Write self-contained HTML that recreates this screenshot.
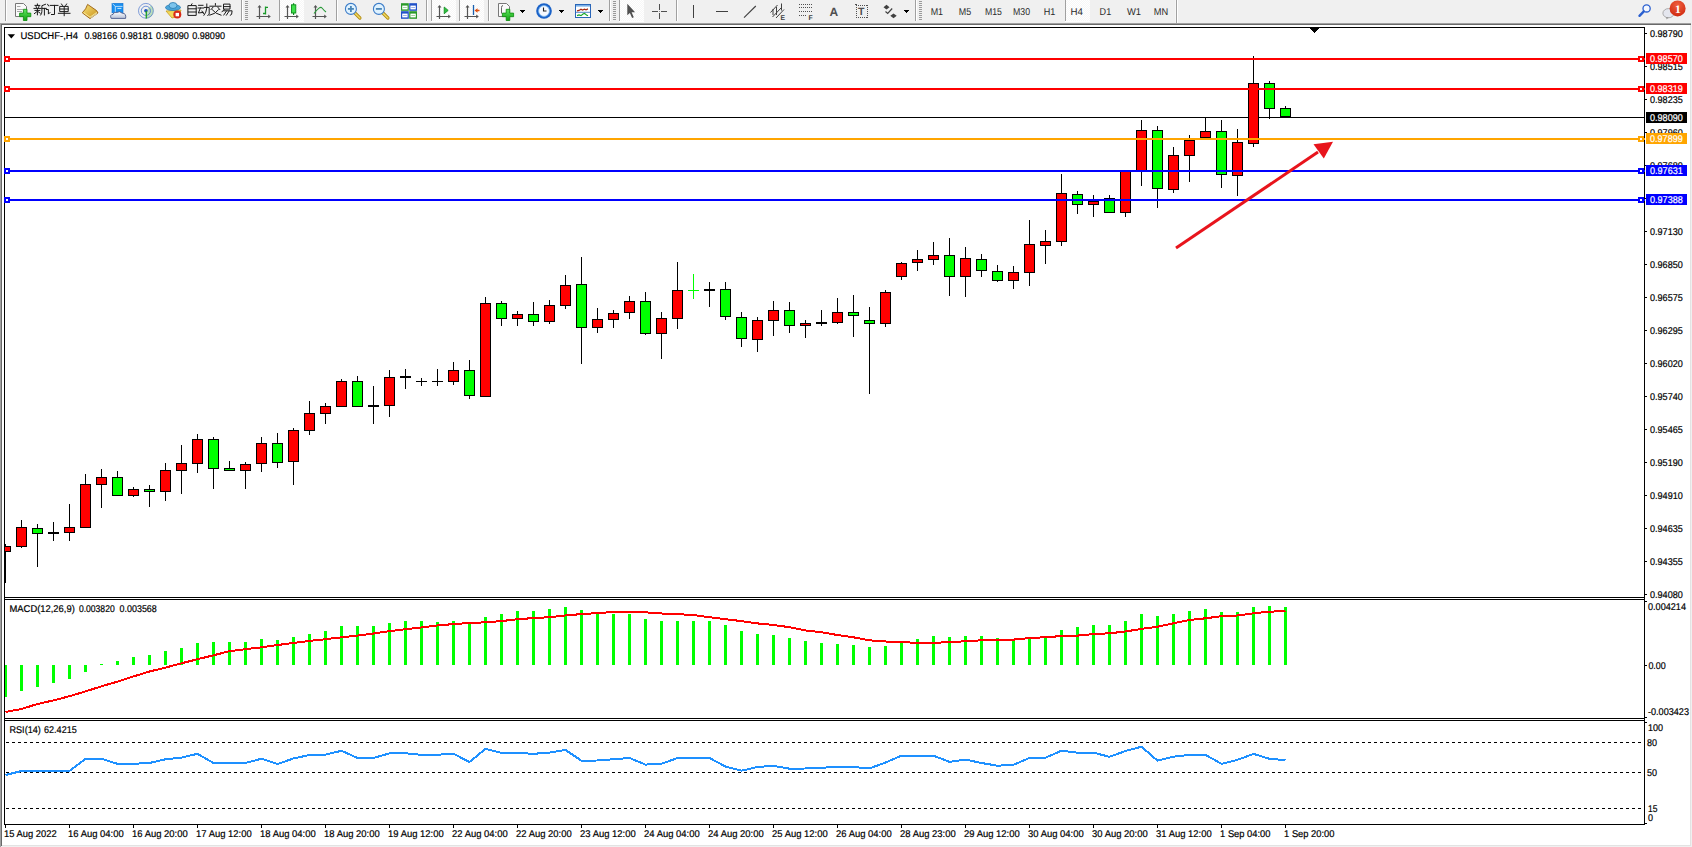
<!DOCTYPE html>
<html><head><meta charset="utf-8"><title>MT4 USDCHF H4</title>
<style>
html,body{margin:0;padding:0;background:#f0f0f0;}
body{width:1692px;height:847px;overflow:hidden;position:relative;}
svg{position:absolute;left:0;top:0;display:block;}
text{font-family:'Liberation Sans',sans-serif;text-rendering:geometricPrecision;}
</style></head>
<body>
<svg width="1692" height="847" viewBox="0 0 1692 847" shape-rendering="crispEdges">
<rect x="0" y="0" width="1692" height="847" fill="#f0f0f0"/>
<rect x="0" y="23" width="1691" height="1" fill="#a0a0a0"/>
<rect x="0" y="23" width="1" height="824" fill="#a0a0a0"/>
<rect x="1" y="24" width="1690" height="1" fill="#696969"/>
<rect x="1" y="24" width="1" height="822" fill="#696969"/>
<rect x="2" y="25" width="1688" height="820" fill="#ffffff"/>
<rect x="1690" y="25" width="1" height="821" fill="#e3e3e3"/>
<rect x="2" y="845" width="1689" height="1" fill="#e3e3e3"/>
<rect x="4" y="27" width="1641" height="1" fill="#000"/>
<rect x="4" y="597" width="1641" height="1" fill="#000"/>
<rect x="4" y="599" width="1641" height="1" fill="#000"/>
<rect x="4" y="718" width="1641" height="1" fill="#000"/>
<rect x="4" y="720" width="1641" height="1" fill="#000"/>
<rect x="4" y="824" width="1641" height="1" fill="#000"/>
<rect x="4" y="27" width="1" height="798" fill="#000"/>
<rect x="1644" y="27" width="1" height="798" fill="#000"/>
<defs><clipPath id="mc"><rect x="5" y="28" width="1639" height="569"/></clipPath></defs>
<g clip-path="url(#mc)">
<rect x="5" y="117" width="1639" height="1" fill="#000"/>
<rect x="5" y="544" width="1" height="39" fill="#000"/>
<rect x="0" y="546" width="11" height="6" fill="#000"/>
<rect x="1" y="547" width="9" height="4" fill="#ff0000"/>
<rect x="21" y="520" width="1" height="28" fill="#000"/>
<rect x="16" y="527" width="11" height="20" fill="#000"/>
<rect x="17" y="528" width="9" height="18" fill="#ff0000"/>
<rect x="37" y="524" width="1" height="43" fill="#000"/>
<rect x="32" y="528" width="11" height="6" fill="#000"/>
<rect x="33" y="529" width="9" height="4" fill="#00ff00"/>
<rect x="53" y="522" width="1" height="19" fill="#000"/>
<rect x="48" y="532" width="11" height="2" fill="#000"/>
<rect x="69" y="504" width="1" height="37" fill="#000"/>
<rect x="64" y="527" width="11" height="6" fill="#000"/>
<rect x="65" y="528" width="9" height="4" fill="#ff0000"/>
<rect x="85" y="474" width="1" height="54" fill="#000"/>
<rect x="80" y="484" width="11" height="44" fill="#000"/>
<rect x="81" y="485" width="9" height="42" fill="#ff0000"/>
<rect x="101" y="469" width="1" height="39" fill="#000"/>
<rect x="96" y="477" width="11" height="8" fill="#000"/>
<rect x="97" y="478" width="9" height="6" fill="#ff0000"/>
<rect x="117" y="471" width="1" height="25" fill="#000"/>
<rect x="112" y="477" width="11" height="19" fill="#000"/>
<rect x="113" y="478" width="9" height="17" fill="#00ff00"/>
<rect x="133" y="487" width="1" height="10" fill="#000"/>
<rect x="128" y="489" width="11" height="7" fill="#000"/>
<rect x="129" y="490" width="9" height="5" fill="#ff0000"/>
<rect x="149" y="485" width="1" height="22" fill="#000"/>
<rect x="144" y="489" width="11" height="3" fill="#000"/>
<rect x="145" y="490" width="9" height="1" fill="#00ff00"/>
<rect x="165" y="463" width="1" height="38" fill="#000"/>
<rect x="160" y="470" width="11" height="22" fill="#000"/>
<rect x="161" y="471" width="9" height="20" fill="#ff0000"/>
<rect x="181" y="445" width="1" height="49" fill="#000"/>
<rect x="176" y="463" width="11" height="8" fill="#000"/>
<rect x="177" y="464" width="9" height="6" fill="#ff0000"/>
<rect x="197" y="434" width="1" height="39" fill="#000"/>
<rect x="192" y="439" width="11" height="25" fill="#000"/>
<rect x="193" y="440" width="9" height="23" fill="#ff0000"/>
<rect x="213" y="437" width="1" height="52" fill="#000"/>
<rect x="208" y="439" width="11" height="30" fill="#000"/>
<rect x="209" y="440" width="9" height="28" fill="#00ff00"/>
<rect x="229" y="461" width="1" height="10" fill="#000"/>
<rect x="224" y="468" width="11" height="3" fill="#000"/>
<rect x="225" y="469" width="9" height="1" fill="#00ff00"/>
<rect x="245" y="462" width="1" height="27" fill="#000"/>
<rect x="240" y="464" width="11" height="7" fill="#000"/>
<rect x="241" y="465" width="9" height="5" fill="#ff0000"/>
<rect x="261" y="437" width="1" height="35" fill="#000"/>
<rect x="256" y="443" width="11" height="21" fill="#000"/>
<rect x="257" y="444" width="9" height="19" fill="#ff0000"/>
<rect x="277" y="433" width="1" height="35" fill="#000"/>
<rect x="272" y="443" width="11" height="20" fill="#000"/>
<rect x="273" y="444" width="9" height="18" fill="#00ff00"/>
<rect x="293" y="428" width="1" height="57" fill="#000"/>
<rect x="288" y="430" width="11" height="32" fill="#000"/>
<rect x="289" y="431" width="9" height="30" fill="#ff0000"/>
<rect x="309" y="401" width="1" height="34" fill="#000"/>
<rect x="304" y="413" width="11" height="18" fill="#000"/>
<rect x="305" y="414" width="9" height="16" fill="#ff0000"/>
<rect x="325" y="403" width="1" height="21" fill="#000"/>
<rect x="320" y="406" width="11" height="8" fill="#000"/>
<rect x="321" y="407" width="9" height="6" fill="#ff0000"/>
<rect x="341" y="379" width="1" height="28" fill="#000"/>
<rect x="336" y="381" width="11" height="26" fill="#000"/>
<rect x="337" y="382" width="9" height="24" fill="#ff0000"/>
<rect x="357" y="376" width="1" height="31" fill="#000"/>
<rect x="352" y="381" width="11" height="26" fill="#000"/>
<rect x="353" y="382" width="9" height="24" fill="#00ff00"/>
<rect x="373" y="386" width="1" height="38" fill="#000"/>
<rect x="368" y="405" width="11" height="2" fill="#000"/>
<rect x="389" y="370" width="1" height="47" fill="#000"/>
<rect x="384" y="377" width="11" height="29" fill="#000"/>
<rect x="385" y="378" width="9" height="27" fill="#ff0000"/>
<rect x="405" y="369" width="1" height="20" fill="#000"/>
<rect x="400" y="376" width="11" height="2" fill="#000"/>
<rect x="421" y="378" width="1" height="8" fill="#000"/>
<rect x="416" y="381" width="11" height="1" fill="#000"/>
<rect x="437" y="369" width="1" height="17" fill="#000"/>
<rect x="432" y="381" width="11" height="1" fill="#000"/>
<rect x="453" y="362" width="1" height="23" fill="#000"/>
<rect x="448" y="370" width="11" height="12" fill="#000"/>
<rect x="449" y="371" width="9" height="10" fill="#ff0000"/>
<rect x="469" y="360" width="1" height="39" fill="#000"/>
<rect x="464" y="370" width="11" height="26" fill="#000"/>
<rect x="465" y="371" width="9" height="24" fill="#00ff00"/>
<rect x="485" y="297" width="1" height="100" fill="#000"/>
<rect x="480" y="303" width="11" height="94" fill="#000"/>
<rect x="481" y="304" width="9" height="92" fill="#ff0000"/>
<rect x="501" y="301" width="1" height="25" fill="#000"/>
<rect x="496" y="303" width="11" height="16" fill="#000"/>
<rect x="497" y="304" width="9" height="14" fill="#00ff00"/>
<rect x="517" y="311" width="1" height="15" fill="#000"/>
<rect x="512" y="314" width="11" height="5" fill="#000"/>
<rect x="513" y="315" width="9" height="3" fill="#ff0000"/>
<rect x="533" y="302" width="1" height="24" fill="#000"/>
<rect x="528" y="314" width="11" height="8" fill="#000"/>
<rect x="529" y="315" width="9" height="6" fill="#00ff00"/>
<rect x="549" y="300" width="1" height="24" fill="#000"/>
<rect x="544" y="305" width="11" height="17" fill="#000"/>
<rect x="545" y="306" width="9" height="15" fill="#ff0000"/>
<rect x="565" y="275" width="1" height="34" fill="#000"/>
<rect x="560" y="285" width="11" height="21" fill="#000"/>
<rect x="561" y="286" width="9" height="19" fill="#ff0000"/>
<rect x="581" y="257" width="1" height="107" fill="#000"/>
<rect x="576" y="284" width="11" height="44" fill="#000"/>
<rect x="577" y="285" width="9" height="42" fill="#00ff00"/>
<rect x="597" y="308" width="1" height="25" fill="#000"/>
<rect x="592" y="319" width="11" height="9" fill="#000"/>
<rect x="593" y="320" width="9" height="7" fill="#ff0000"/>
<rect x="613" y="310" width="1" height="18" fill="#000"/>
<rect x="608" y="313" width="11" height="7" fill="#000"/>
<rect x="609" y="314" width="9" height="5" fill="#ff0000"/>
<rect x="629" y="296" width="1" height="23" fill="#000"/>
<rect x="624" y="301" width="11" height="12" fill="#000"/>
<rect x="625" y="302" width="9" height="10" fill="#ff0000"/>
<rect x="645" y="292" width="1" height="43" fill="#000"/>
<rect x="640" y="301" width="11" height="33" fill="#000"/>
<rect x="641" y="302" width="9" height="31" fill="#00ff00"/>
<rect x="661" y="312" width="1" height="47" fill="#000"/>
<rect x="656" y="318" width="11" height="16" fill="#000"/>
<rect x="657" y="319" width="9" height="14" fill="#ff0000"/>
<rect x="677" y="262" width="1" height="67" fill="#000"/>
<rect x="672" y="290" width="11" height="29" fill="#000"/>
<rect x="673" y="291" width="9" height="27" fill="#ff0000"/>
<rect x="693" y="274" width="1" height="25" fill="#00ff00"/>
<rect x="688" y="290" width="11" height="1" fill="#00ff00"/>
<rect x="709" y="282" width="1" height="25" fill="#000"/>
<rect x="704" y="289" width="11" height="2" fill="#000"/>
<rect x="725" y="282" width="1" height="38" fill="#000"/>
<rect x="720" y="289" width="11" height="28" fill="#000"/>
<rect x="721" y="290" width="9" height="26" fill="#00ff00"/>
<rect x="741" y="312" width="1" height="35" fill="#000"/>
<rect x="736" y="317" width="11" height="22" fill="#000"/>
<rect x="737" y="318" width="9" height="20" fill="#00ff00"/>
<rect x="757" y="317" width="1" height="35" fill="#000"/>
<rect x="752" y="320" width="11" height="20" fill="#000"/>
<rect x="753" y="321" width="9" height="18" fill="#ff0000"/>
<rect x="773" y="301" width="1" height="35" fill="#000"/>
<rect x="768" y="310" width="11" height="11" fill="#000"/>
<rect x="769" y="311" width="9" height="9" fill="#ff0000"/>
<rect x="789" y="302" width="1" height="31" fill="#000"/>
<rect x="784" y="310" width="11" height="16" fill="#000"/>
<rect x="785" y="311" width="9" height="14" fill="#00ff00"/>
<rect x="805" y="320" width="1" height="18" fill="#000"/>
<rect x="800" y="323" width="11" height="3" fill="#000"/>
<rect x="801" y="324" width="9" height="1" fill="#ff0000"/>
<rect x="821" y="310" width="1" height="16" fill="#000"/>
<rect x="816" y="322" width="11" height="2" fill="#000"/>
<rect x="837" y="298" width="1" height="26" fill="#000"/>
<rect x="832" y="312" width="11" height="11" fill="#000"/>
<rect x="833" y="313" width="9" height="9" fill="#ff0000"/>
<rect x="853" y="295" width="1" height="42" fill="#000"/>
<rect x="848" y="312" width="11" height="4" fill="#000"/>
<rect x="849" y="313" width="9" height="2" fill="#00ff00"/>
<rect x="869" y="307" width="1" height="87" fill="#000"/>
<rect x="864" y="320" width="11" height="4" fill="#000"/>
<rect x="865" y="321" width="9" height="2" fill="#00ff00"/>
<rect x="885" y="290" width="1" height="37" fill="#000"/>
<rect x="880" y="292" width="11" height="32" fill="#000"/>
<rect x="881" y="293" width="9" height="30" fill="#ff0000"/>
<rect x="901" y="262" width="1" height="18" fill="#000"/>
<rect x="896" y="263" width="11" height="14" fill="#000"/>
<rect x="897" y="264" width="9" height="12" fill="#ff0000"/>
<rect x="917" y="250" width="1" height="21" fill="#000"/>
<rect x="912" y="259" width="11" height="4" fill="#000"/>
<rect x="913" y="260" width="9" height="2" fill="#ff0000"/>
<rect x="933" y="242" width="1" height="23" fill="#000"/>
<rect x="928" y="255" width="11" height="5" fill="#000"/>
<rect x="929" y="256" width="9" height="3" fill="#ff0000"/>
<rect x="949" y="238" width="1" height="58" fill="#000"/>
<rect x="944" y="255" width="11" height="22" fill="#000"/>
<rect x="945" y="256" width="9" height="20" fill="#00ff00"/>
<rect x="965" y="247" width="1" height="50" fill="#000"/>
<rect x="960" y="258" width="11" height="19" fill="#000"/>
<rect x="961" y="259" width="9" height="17" fill="#ff0000"/>
<rect x="981" y="254" width="1" height="23" fill="#000"/>
<rect x="976" y="259" width="11" height="12" fill="#000"/>
<rect x="977" y="260" width="9" height="10" fill="#00ff00"/>
<rect x="997" y="265" width="1" height="17" fill="#000"/>
<rect x="992" y="271" width="11" height="10" fill="#000"/>
<rect x="993" y="272" width="9" height="8" fill="#00ff00"/>
<rect x="1013" y="266" width="1" height="23" fill="#000"/>
<rect x="1008" y="272" width="11" height="9" fill="#000"/>
<rect x="1009" y="273" width="9" height="7" fill="#ff0000"/>
<rect x="1029" y="220" width="1" height="66" fill="#000"/>
<rect x="1024" y="244" width="11" height="29" fill="#000"/>
<rect x="1025" y="245" width="9" height="27" fill="#ff0000"/>
<rect x="1045" y="230" width="1" height="34" fill="#000"/>
<rect x="1040" y="241" width="11" height="5" fill="#000"/>
<rect x="1041" y="242" width="9" height="3" fill="#ff0000"/>
<rect x="1061" y="174" width="1" height="72" fill="#000"/>
<rect x="1056" y="193" width="11" height="49" fill="#000"/>
<rect x="1057" y="194" width="9" height="47" fill="#ff0000"/>
<rect x="1077" y="191" width="1" height="23" fill="#000"/>
<rect x="1072" y="194" width="11" height="11" fill="#000"/>
<rect x="1073" y="195" width="9" height="9" fill="#00ff00"/>
<rect x="1093" y="195" width="1" height="22" fill="#000"/>
<rect x="1088" y="201" width="11" height="4" fill="#000"/>
<rect x="1089" y="202" width="9" height="2" fill="#ff0000"/>
<rect x="1109" y="195" width="1" height="18" fill="#000"/>
<rect x="1104" y="198" width="11" height="15" fill="#000"/>
<rect x="1105" y="199" width="9" height="13" fill="#00ff00"/>
<rect x="1125" y="171" width="1" height="46" fill="#000"/>
<rect x="1120" y="171" width="11" height="42" fill="#000"/>
<rect x="1121" y="172" width="9" height="40" fill="#ff0000"/>
<rect x="1141" y="120" width="1" height="66" fill="#000"/>
<rect x="1136" y="130" width="11" height="41" fill="#000"/>
<rect x="1137" y="131" width="9" height="39" fill="#ff0000"/>
<rect x="1157" y="126" width="1" height="82" fill="#000"/>
<rect x="1152" y="130" width="11" height="59" fill="#000"/>
<rect x="1153" y="131" width="9" height="57" fill="#00ff00"/>
<rect x="1173" y="147" width="1" height="46" fill="#000"/>
<rect x="1168" y="155" width="11" height="35" fill="#000"/>
<rect x="1169" y="156" width="9" height="33" fill="#ff0000"/>
<rect x="1189" y="135" width="1" height="47" fill="#000"/>
<rect x="1184" y="140" width="11" height="16" fill="#000"/>
<rect x="1185" y="141" width="9" height="14" fill="#ff0000"/>
<rect x="1205" y="118" width="1" height="20" fill="#000"/>
<rect x="1200" y="131" width="11" height="7" fill="#000"/>
<rect x="1201" y="132" width="9" height="5" fill="#ff0000"/>
<rect x="1221" y="120" width="1" height="68" fill="#000"/>
<rect x="1216" y="131" width="11" height="44" fill="#000"/>
<rect x="1217" y="132" width="9" height="42" fill="#00ff00"/>
<rect x="1237" y="129" width="1" height="67" fill="#000"/>
<rect x="1232" y="142" width="11" height="34" fill="#000"/>
<rect x="1233" y="143" width="9" height="32" fill="#ff0000"/>
<rect x="1253" y="56" width="1" height="91" fill="#000"/>
<rect x="1248" y="83" width="11" height="61" fill="#000"/>
<rect x="1249" y="84" width="9" height="59" fill="#ff0000"/>
<rect x="1269" y="81" width="1" height="38" fill="#000"/>
<rect x="1264" y="83" width="11" height="26" fill="#000"/>
<rect x="1265" y="84" width="9" height="24" fill="#00ff00"/>
<rect x="1285" y="106" width="1" height="11" fill="#000"/>
<rect x="1280" y="108" width="11" height="9" fill="#000"/>
<rect x="1281" y="109" width="9" height="7" fill="#00ff00"/>
</g>
<rect x="5" y="58" width="1640" height="2" fill="#ff0000"/>
<rect x="4" y="56" width="6" height="6" fill="#ff0000"/>
<rect x="6" y="58" width="2" height="2" fill="#ffffff"/>
<rect x="1638" y="56" width="6" height="6" fill="#ff0000"/>
<rect x="1640" y="58" width="2" height="2" fill="#ffffff"/>
<rect x="5" y="88" width="1640" height="2" fill="#ff0000"/>
<rect x="4" y="86" width="6" height="6" fill="#ff0000"/>
<rect x="6" y="88" width="2" height="2" fill="#ffffff"/>
<rect x="1638" y="86" width="6" height="6" fill="#ff0000"/>
<rect x="1640" y="88" width="2" height="2" fill="#ffffff"/>
<rect x="5" y="138" width="1640" height="2" fill="#ffa500"/>
<rect x="4" y="136" width="6" height="6" fill="#ffa500"/>
<rect x="6" y="138" width="2" height="2" fill="#ffffff"/>
<rect x="1638" y="136" width="6" height="6" fill="#ffa500"/>
<rect x="1640" y="138" width="2" height="2" fill="#ffffff"/>
<rect x="5" y="170" width="1640" height="2" fill="#0000ff"/>
<rect x="4" y="168" width="6" height="6" fill="#0000ff"/>
<rect x="6" y="170" width="2" height="2" fill="#ffffff"/>
<rect x="1638" y="168" width="6" height="6" fill="#0000ff"/>
<rect x="1640" y="170" width="2" height="2" fill="#ffffff"/>
<rect x="5" y="199" width="1640" height="2" fill="#0000ff"/>
<rect x="4" y="197" width="6" height="6" fill="#0000ff"/>
<rect x="6" y="199" width="2" height="2" fill="#ffffff"/>
<rect x="1638" y="197" width="6" height="6" fill="#0000ff"/>
<rect x="1640" y="199" width="2" height="2" fill="#ffffff"/>
<polygon points="1309.5,28 1319.5,28 1314.5,33" fill="#000"/>
<g shape-rendering="geometricPrecision">
<line x1="1176" y1="248" x2="1318" y2="152" stroke="#e8141c" stroke-width="3"/>
<polygon points="1333,141.8 1313.5,144.3 1323.8,158.6" fill="#e8141c"/>
</g>
<rect x="1645" y="33" width="2" height="1" fill="#000"/>
<text x="1650" y="37" font-size="9.8" fill="#000" stroke="#000" stroke-width="0.2" textLength="32.8" lengthAdjust="spacingAndGlyphs">0.98790</text>
<rect x="1645" y="66" width="2" height="1" fill="#000"/>
<text x="1650" y="70" font-size="9.8" fill="#000" stroke="#000" stroke-width="0.2" textLength="32.8" lengthAdjust="spacingAndGlyphs">0.98515</text>
<rect x="1645" y="99" width="2" height="1" fill="#000"/>
<text x="1650" y="103" font-size="9.8" fill="#000" stroke="#000" stroke-width="0.2" textLength="32.8" lengthAdjust="spacingAndGlyphs">0.98235</text>
<rect x="1645" y="132" width="2" height="1" fill="#000"/>
<text x="1650" y="136" font-size="9.8" fill="#000" stroke="#000" stroke-width="0.2" textLength="32.8" lengthAdjust="spacingAndGlyphs">0.97960</text>
<rect x="1645" y="165" width="2" height="1" fill="#000"/>
<text x="1650" y="169" font-size="9.8" fill="#000" stroke="#000" stroke-width="0.2" textLength="32.8" lengthAdjust="spacingAndGlyphs">0.97680</text>
<rect x="1645" y="198" width="2" height="1" fill="#000"/>
<text x="1650" y="202" font-size="9.8" fill="#000" stroke="#000" stroke-width="0.2" textLength="32.8" lengthAdjust="spacingAndGlyphs">0.97405</text>
<rect x="1645" y="231" width="2" height="1" fill="#000"/>
<text x="1650" y="235" font-size="9.8" fill="#000" stroke="#000" stroke-width="0.2" textLength="32.8" lengthAdjust="spacingAndGlyphs">0.97130</text>
<rect x="1645" y="264" width="2" height="1" fill="#000"/>
<text x="1650" y="268" font-size="9.8" fill="#000" stroke="#000" stroke-width="0.2" textLength="32.8" lengthAdjust="spacingAndGlyphs">0.96850</text>
<rect x="1645" y="297" width="2" height="1" fill="#000"/>
<text x="1650" y="301" font-size="9.8" fill="#000" stroke="#000" stroke-width="0.2" textLength="32.8" lengthAdjust="spacingAndGlyphs">0.96575</text>
<rect x="1645" y="330" width="2" height="1" fill="#000"/>
<text x="1650" y="334" font-size="9.8" fill="#000" stroke="#000" stroke-width="0.2" textLength="32.8" lengthAdjust="spacingAndGlyphs">0.96295</text>
<rect x="1645" y="363" width="2" height="1" fill="#000"/>
<text x="1650" y="367" font-size="9.8" fill="#000" stroke="#000" stroke-width="0.2" textLength="32.8" lengthAdjust="spacingAndGlyphs">0.96020</text>
<rect x="1645" y="396" width="2" height="1" fill="#000"/>
<text x="1650" y="400" font-size="9.8" fill="#000" stroke="#000" stroke-width="0.2" textLength="32.8" lengthAdjust="spacingAndGlyphs">0.95740</text>
<rect x="1645" y="429" width="2" height="1" fill="#000"/>
<text x="1650" y="433" font-size="9.8" fill="#000" stroke="#000" stroke-width="0.2" textLength="32.8" lengthAdjust="spacingAndGlyphs">0.95465</text>
<rect x="1645" y="462" width="2" height="1" fill="#000"/>
<text x="1650" y="466" font-size="9.8" fill="#000" stroke="#000" stroke-width="0.2" textLength="32.8" lengthAdjust="spacingAndGlyphs">0.95190</text>
<rect x="1645" y="495" width="2" height="1" fill="#000"/>
<text x="1650" y="499" font-size="9.8" fill="#000" stroke="#000" stroke-width="0.2" textLength="32.8" lengthAdjust="spacingAndGlyphs">0.94910</text>
<rect x="1645" y="528" width="2" height="1" fill="#000"/>
<text x="1650" y="532" font-size="9.8" fill="#000" stroke="#000" stroke-width="0.2" textLength="32.8" lengthAdjust="spacingAndGlyphs">0.94635</text>
<rect x="1645" y="561" width="2" height="1" fill="#000"/>
<text x="1650" y="565" font-size="9.8" fill="#000" stroke="#000" stroke-width="0.2" textLength="32.8" lengthAdjust="spacingAndGlyphs">0.94355</text>
<rect x="1645" y="594" width="2" height="1" fill="#000"/>
<text x="1650" y="598" font-size="9.8" fill="#000" stroke="#000" stroke-width="0.2" textLength="32.8" lengthAdjust="spacingAndGlyphs">0.94080</text>
<rect x="1646" y="53" width="41" height="11" fill="#ff0000"/>
<text x="1650" y="62" font-size="9.8" fill="#ffffff" stroke="#ffffff" stroke-width="0.2" textLength="32.8" lengthAdjust="spacingAndGlyphs">0.98570</text>
<rect x="1646" y="83" width="41" height="11" fill="#ff0000"/>
<text x="1650" y="92" font-size="9.8" fill="#ffffff" stroke="#ffffff" stroke-width="0.2" textLength="32.8" lengthAdjust="spacingAndGlyphs">0.98319</text>
<rect x="1646" y="112" width="41" height="11" fill="#000000"/>
<text x="1650" y="121" font-size="9.8" fill="#ffffff" stroke="#ffffff" stroke-width="0.2" textLength="32.8" lengthAdjust="spacingAndGlyphs">0.98090</text>
<rect x="1646" y="133" width="41" height="11" fill="#ffa500"/>
<text x="1650" y="142" font-size="9.8" fill="#ffffff" stroke="#ffffff" stroke-width="0.2" textLength="32.8" lengthAdjust="spacingAndGlyphs">0.97899</text>
<rect x="1646" y="165" width="41" height="11" fill="#0000ff"/>
<text x="1650" y="174" font-size="9.8" fill="#ffffff" stroke="#ffffff" stroke-width="0.2" textLength="32.8" lengthAdjust="spacingAndGlyphs">0.97631</text>
<rect x="1646" y="194" width="41" height="11" fill="#0000ff"/>
<text x="1650" y="203" font-size="9.8" fill="#ffffff" stroke="#ffffff" stroke-width="0.2" textLength="32.8" lengthAdjust="spacingAndGlyphs">0.97388</text>
<polygon points="7.6,34.2 15,34.2 11.3,38.4" fill="#000" shape-rendering="geometricPrecision"/>
<text x="20.5" y="39" font-size="9.8" fill="#000" stroke="#000" stroke-width="0.2" textLength="57.4" lengthAdjust="spacingAndGlyphs">USDCHF-,H4</text>
<text x="84.4" y="39" font-size="9.8" fill="#000" stroke="#000" stroke-width="0.2" textLength="32.8" lengthAdjust="spacingAndGlyphs">0.98166</text>
<text x="120.3" y="39" font-size="9.8" fill="#000" stroke="#000" stroke-width="0.2" textLength="32.4" lengthAdjust="spacingAndGlyphs">0.98181</text>
<text x="156" y="39" font-size="9.8" fill="#000" stroke="#000" stroke-width="0.2" textLength="32.8" lengthAdjust="spacingAndGlyphs">0.98090</text>
<text x="192.2" y="39" font-size="9.8" fill="#000" stroke="#000" stroke-width="0.2" textLength="32.8" lengthAdjust="spacingAndGlyphs">0.98090</text>
<defs><clipPath id="macdc"><rect x="5" y="600" width="1639" height="118"/></clipPath></defs>
<g clip-path="url(#macdc)">
<rect x="4" y="665" width="3" height="32" fill="#00ff00"/>
<rect x="20" y="665" width="3" height="26" fill="#00ff00"/>
<rect x="36" y="665" width="3" height="22" fill="#00ff00"/>
<rect x="52" y="665" width="3" height="18" fill="#00ff00"/>
<rect x="68" y="665" width="3" height="14" fill="#00ff00"/>
<rect x="84" y="665" width="3" height="7" fill="#00ff00"/>
<rect x="100" y="664" width="3" height="1" fill="#00ff00"/>
<rect x="116" y="661" width="3" height="4" fill="#00ff00"/>
<rect x="132" y="657" width="3" height="8" fill="#00ff00"/>
<rect x="148" y="655" width="3" height="10" fill="#00ff00"/>
<rect x="164" y="651" width="3" height="14" fill="#00ff00"/>
<rect x="180" y="648" width="3" height="17" fill="#00ff00"/>
<rect x="196" y="643" width="3" height="22" fill="#00ff00"/>
<rect x="212" y="642" width="3" height="23" fill="#00ff00"/>
<rect x="228" y="642" width="3" height="23" fill="#00ff00"/>
<rect x="244" y="642" width="3" height="23" fill="#00ff00"/>
<rect x="260" y="639" width="3" height="26" fill="#00ff00"/>
<rect x="276" y="640" width="3" height="25" fill="#00ff00"/>
<rect x="292" y="637" width="3" height="28" fill="#00ff00"/>
<rect x="308" y="634" width="3" height="31" fill="#00ff00"/>
<rect x="324" y="631" width="3" height="34" fill="#00ff00"/>
<rect x="340" y="626" width="3" height="39" fill="#00ff00"/>
<rect x="356" y="626" width="3" height="39" fill="#00ff00"/>
<rect x="372" y="626" width="3" height="39" fill="#00ff00"/>
<rect x="388" y="623" width="3" height="42" fill="#00ff00"/>
<rect x="404" y="621" width="3" height="44" fill="#00ff00"/>
<rect x="420" y="621" width="3" height="44" fill="#00ff00"/>
<rect x="436" y="622" width="3" height="43" fill="#00ff00"/>
<rect x="452" y="621" width="3" height="44" fill="#00ff00"/>
<rect x="468" y="623" width="3" height="42" fill="#00ff00"/>
<rect x="484" y="617" width="3" height="48" fill="#00ff00"/>
<rect x="500" y="614" width="3" height="51" fill="#00ff00"/>
<rect x="516" y="611" width="3" height="54" fill="#00ff00"/>
<rect x="532" y="611" width="3" height="54" fill="#00ff00"/>
<rect x="548" y="609" width="3" height="56" fill="#00ff00"/>
<rect x="564" y="607" width="3" height="58" fill="#00ff00"/>
<rect x="580" y="610" width="3" height="55" fill="#00ff00"/>
<rect x="596" y="612" width="3" height="53" fill="#00ff00"/>
<rect x="612" y="614" width="3" height="51" fill="#00ff00"/>
<rect x="628" y="614" width="3" height="51" fill="#00ff00"/>
<rect x="644" y="619" width="3" height="46" fill="#00ff00"/>
<rect x="660" y="621" width="3" height="44" fill="#00ff00"/>
<rect x="676" y="621" width="3" height="44" fill="#00ff00"/>
<rect x="692" y="621" width="3" height="44" fill="#00ff00"/>
<rect x="708" y="621" width="3" height="44" fill="#00ff00"/>
<rect x="724" y="625" width="3" height="40" fill="#00ff00"/>
<rect x="740" y="631" width="3" height="34" fill="#00ff00"/>
<rect x="756" y="634" width="3" height="31" fill="#00ff00"/>
<rect x="772" y="635" width="3" height="30" fill="#00ff00"/>
<rect x="788" y="638" width="3" height="27" fill="#00ff00"/>
<rect x="804" y="641" width="3" height="24" fill="#00ff00"/>
<rect x="820" y="643" width="3" height="22" fill="#00ff00"/>
<rect x="836" y="644" width="3" height="21" fill="#00ff00"/>
<rect x="852" y="645" width="3" height="20" fill="#00ff00"/>
<rect x="868" y="647" width="3" height="18" fill="#00ff00"/>
<rect x="884" y="646" width="3" height="19" fill="#00ff00"/>
<rect x="900" y="643" width="3" height="22" fill="#00ff00"/>
<rect x="916" y="639" width="3" height="26" fill="#00ff00"/>
<rect x="932" y="636" width="3" height="29" fill="#00ff00"/>
<rect x="948" y="637" width="3" height="28" fill="#00ff00"/>
<rect x="964" y="636" width="3" height="29" fill="#00ff00"/>
<rect x="980" y="636" width="3" height="29" fill="#00ff00"/>
<rect x="996" y="638" width="3" height="27" fill="#00ff00"/>
<rect x="1012" y="639" width="3" height="26" fill="#00ff00"/>
<rect x="1028" y="637" width="3" height="28" fill="#00ff00"/>
<rect x="1044" y="636" width="3" height="29" fill="#00ff00"/>
<rect x="1060" y="630" width="3" height="35" fill="#00ff00"/>
<rect x="1076" y="627" width="3" height="38" fill="#00ff00"/>
<rect x="1092" y="625" width="3" height="40" fill="#00ff00"/>
<rect x="1108" y="625" width="3" height="40" fill="#00ff00"/>
<rect x="1124" y="621" width="3" height="44" fill="#00ff00"/>
<rect x="1140" y="614" width="3" height="51" fill="#00ff00"/>
<rect x="1156" y="616" width="3" height="49" fill="#00ff00"/>
<rect x="1172" y="614" width="3" height="51" fill="#00ff00"/>
<rect x="1188" y="611" width="3" height="54" fill="#00ff00"/>
<rect x="1204" y="609" width="3" height="56" fill="#00ff00"/>
<rect x="1220" y="612" width="3" height="53" fill="#00ff00"/>
<rect x="1236" y="612" width="3" height="53" fill="#00ff00"/>
<rect x="1252" y="607" width="3" height="58" fill="#00ff00"/>
<rect x="1268" y="606" width="3" height="59" fill="#00ff00"/>
<rect x="1284" y="607" width="3" height="58" fill="#00ff00"/>
<polyline points="5.5,712 21.5,709 37.5,704 53.5,700.4 69.5,696.2 85.5,691.4 101.5,686.3 117.5,681.6 133.5,676.4 149.5,671.5 165.5,667.6 181.5,663.3 197.5,659.2 213.5,655.3 229.5,651.2 245.5,649.2 261.5,647.3 277.5,645 293.5,643 309.5,640.9 325.5,639.2 341.5,637.3 357.5,635.6 373.5,633.5 389.5,631.2 405.5,629.2 421.5,627.4 437.5,625.4 453.5,624.1 469.5,623 485.5,622.3 501.5,621.1 517.5,619.2 533.5,618.1 549.5,617.2 565.5,615.4 581.5,614.1 597.5,613.1 613.5,612 629.5,611.7 645.5,612.3 661.5,613.5 677.5,614.1 693.5,615.1 709.5,617.2 725.5,619.2 741.5,621.1 757.5,623.4 773.5,625 789.5,627.2 805.5,630.4 821.5,632.3 837.5,635 853.5,637.3 869.5,640.3 885.5,641.5 901.5,642.3 917.5,642.7 933.5,642.7 949.5,642.3 965.5,641.2 981.5,640.3 997.5,640 1013.5,639.6 1029.5,638.1 1045.5,637.2 1061.5,636.1 1077.5,635.6 1093.5,634.1 1109.5,633.3 1125.5,631.5 1141.5,628.9 1157.5,626.7 1173.5,623.3 1189.5,620 1205.5,618.3 1221.5,616.2 1237.5,615.5 1253.5,613.3 1269.5,611.7 1285.5,611" fill="none" stroke="#ff0000" stroke-width="2" stroke-linejoin="round" shape-rendering="crispEdges"/>
</g>
<text x="9.5" y="612" font-size="9.8" fill="#000" stroke="#000" stroke-width="0.2" textLength="65.3" lengthAdjust="spacingAndGlyphs">MACD(12,26,9)</text>
<text x="78.9" y="612" font-size="9.8" fill="#000" stroke="#000" stroke-width="0.2" textLength="35.8" lengthAdjust="spacingAndGlyphs">0.003820</text>
<text x="119.6" y="612" font-size="9.8" fill="#000" stroke="#000" stroke-width="0.2" textLength="37.2" lengthAdjust="spacingAndGlyphs">0.003568</text>
<rect x="1645" y="601" width="2" height="1" fill="#000"/>
<text x="1648" y="610" font-size="9.8" fill="#000" stroke="#000" stroke-width="0.2" textLength="38" lengthAdjust="spacingAndGlyphs">0.004214</text>
<rect x="1645" y="665" width="2" height="1" fill="#000"/>
<text x="1648.4" y="669" font-size="9.8" fill="#000" stroke="#000" stroke-width="0.2" textLength="17.4" lengthAdjust="spacingAndGlyphs">0.00</text>
<rect x="1645" y="717" width="2" height="1" fill="#000"/>
<text x="1648" y="715" font-size="9.8" fill="#000" stroke="#000" stroke-width="0.2" textLength="41" lengthAdjust="spacingAndGlyphs">-0.003423</text>
<line x1="6" y1="742.5" x2="1641" y2="742.5" stroke="#000" stroke-width="1" stroke-dasharray="3,3"/>
<line x1="6" y1="772.5" x2="1641" y2="772.5" stroke="#000" stroke-width="1" stroke-dasharray="3,3"/>
<line x1="6" y1="808.5" x2="1641" y2="808.5" stroke="#000" stroke-width="1" stroke-dasharray="3,3"/>
<defs><clipPath id="rsic"><rect x="5" y="721" width="1639" height="103"/></clipPath></defs>
<g clip-path="url(#rsic)">
<polyline points="5.5,775 21.5,771 37.5,771 53.5,771 69.5,771 85.5,758.8 101.5,758.8 117.5,763.8 133.5,763.8 149.5,763 165.5,759.3 181.5,757.6 197.5,753.8 213.5,763 229.5,763 245.5,763 261.5,758.7 277.5,764.1 293.5,758.4 309.5,755 325.5,754.6 341.5,750.8 357.5,758 373.5,758 389.5,753.3 405.5,753.3 421.5,754.9 437.5,754.7 453.5,753.8 469.5,762 485.5,748.8 501.5,752.8 517.5,753 533.5,753.8 549.5,752.6 565.5,750 581.5,760.7 597.5,760.5 613.5,759.2 629.5,758 645.5,764.6 661.5,763.8 677.5,758 693.5,758 709.5,758 725.5,766.5 741.5,770.7 757.5,767 773.5,765.8 789.5,768.7 805.5,768.5 821.5,767.7 837.5,767 853.5,767 869.5,768.4 885.5,762.5 901.5,755.7 917.5,755.7 933.5,755.7 949.5,761.9 965.5,759.6 981.5,763 997.5,765.7 1013.5,764.8 1029.5,758 1045.5,757.7 1061.5,750.7 1077.5,752.7 1093.5,752.7 1109.5,756.8 1125.5,751 1141.5,746.7 1157.5,760.7 1173.5,756.7 1189.5,754.9 1205.5,754.9 1221.5,763.8 1237.5,759.8 1253.5,753.9 1269.5,758.8 1285.5,760.1" fill="none" stroke="#1e90ff" stroke-width="2" stroke-linejoin="round" shape-rendering="crispEdges"/>
</g>
<text x="9.5" y="733" font-size="9.8" fill="#000" stroke="#000" stroke-width="0.2" textLength="31.3" lengthAdjust="spacingAndGlyphs">RSI(14)</text>
<text x="44" y="733" font-size="9.8" fill="#000" stroke="#000" stroke-width="0.2" textLength="32.8" lengthAdjust="spacingAndGlyphs">62.4215</text>
<rect x="1645" y="722" width="2" height="1" fill="#000"/>
<text x="1648" y="731" font-size="9.8" fill="#000" stroke="#000" stroke-width="0.2" textLength="15" lengthAdjust="spacingAndGlyphs">100</text>
<text x="1647" y="746" font-size="9.8" fill="#000" stroke="#000" stroke-width="0.2" textLength="10" lengthAdjust="spacingAndGlyphs">80</text>
<text x="1647" y="776" font-size="9.8" fill="#000" stroke="#000" stroke-width="0.2" textLength="10" lengthAdjust="spacingAndGlyphs">50</text>
<text x="1648" y="812" font-size="9.8" fill="#000" stroke="#000" stroke-width="0.2" textLength="9.5" lengthAdjust="spacingAndGlyphs">15</text>
<text x="1648" y="821" font-size="9.8" fill="#000" stroke="#000" stroke-width="0.2" textLength="5" lengthAdjust="spacingAndGlyphs">0</text>
<rect x="1645" y="823" width="2" height="1" fill="#000"/>
<rect x="5" y="825" width="1" height="3" fill="#000"/>
<text x="4.1" y="837" font-size="9.8" fill="#000" stroke="#000" stroke-width="0.2" textLength="52.6" lengthAdjust="spacingAndGlyphs">15 Aug 2022</text>
<rect x="69" y="825" width="1" height="3" fill="#000"/>
<text x="68.1" y="837" font-size="9.8" fill="#000" stroke="#000" stroke-width="0.2" textLength="55.6" lengthAdjust="spacingAndGlyphs">16 Aug 04:00</text>
<rect x="133" y="825" width="1" height="3" fill="#000"/>
<text x="132.1" y="837" font-size="9.8" fill="#000" stroke="#000" stroke-width="0.2" textLength="55.6" lengthAdjust="spacingAndGlyphs">16 Aug 20:00</text>
<rect x="197" y="825" width="1" height="3" fill="#000"/>
<text x="196.1" y="837" font-size="9.8" fill="#000" stroke="#000" stroke-width="0.2" textLength="55.6" lengthAdjust="spacingAndGlyphs">17 Aug 12:00</text>
<rect x="261" y="825" width="1" height="3" fill="#000"/>
<text x="260.1" y="837" font-size="9.8" fill="#000" stroke="#000" stroke-width="0.2" textLength="55.6" lengthAdjust="spacingAndGlyphs">18 Aug 04:00</text>
<rect x="325" y="825" width="1" height="3" fill="#000"/>
<text x="324.1" y="837" font-size="9.8" fill="#000" stroke="#000" stroke-width="0.2" textLength="55.6" lengthAdjust="spacingAndGlyphs">18 Aug 20:00</text>
<rect x="389" y="825" width="1" height="3" fill="#000"/>
<text x="388.1" y="837" font-size="9.8" fill="#000" stroke="#000" stroke-width="0.2" textLength="55.6" lengthAdjust="spacingAndGlyphs">19 Aug 12:00</text>
<rect x="453" y="825" width="1" height="3" fill="#000"/>
<text x="452.1" y="837" font-size="9.8" fill="#000" stroke="#000" stroke-width="0.2" textLength="55.6" lengthAdjust="spacingAndGlyphs">22 Aug 04:00</text>
<rect x="517" y="825" width="1" height="3" fill="#000"/>
<text x="516.1" y="837" font-size="9.8" fill="#000" stroke="#000" stroke-width="0.2" textLength="55.6" lengthAdjust="spacingAndGlyphs">22 Aug 20:00</text>
<rect x="581" y="825" width="1" height="3" fill="#000"/>
<text x="580.1" y="837" font-size="9.8" fill="#000" stroke="#000" stroke-width="0.2" textLength="55.6" lengthAdjust="spacingAndGlyphs">23 Aug 12:00</text>
<rect x="645" y="825" width="1" height="3" fill="#000"/>
<text x="644.1" y="837" font-size="9.8" fill="#000" stroke="#000" stroke-width="0.2" textLength="55.6" lengthAdjust="spacingAndGlyphs">24 Aug 04:00</text>
<rect x="709" y="825" width="1" height="3" fill="#000"/>
<text x="708.1" y="837" font-size="9.8" fill="#000" stroke="#000" stroke-width="0.2" textLength="55.6" lengthAdjust="spacingAndGlyphs">24 Aug 20:00</text>
<rect x="773" y="825" width="1" height="3" fill="#000"/>
<text x="772.1" y="837" font-size="9.8" fill="#000" stroke="#000" stroke-width="0.2" textLength="55.6" lengthAdjust="spacingAndGlyphs">25 Aug 12:00</text>
<rect x="837" y="825" width="1" height="3" fill="#000"/>
<text x="836.1" y="837" font-size="9.8" fill="#000" stroke="#000" stroke-width="0.2" textLength="55.6" lengthAdjust="spacingAndGlyphs">26 Aug 04:00</text>
<rect x="901" y="825" width="1" height="3" fill="#000"/>
<text x="900.1" y="837" font-size="9.8" fill="#000" stroke="#000" stroke-width="0.2" textLength="55.6" lengthAdjust="spacingAndGlyphs">28 Aug 23:00</text>
<rect x="965" y="825" width="1" height="3" fill="#000"/>
<text x="964.1" y="837" font-size="9.8" fill="#000" stroke="#000" stroke-width="0.2" textLength="55.6" lengthAdjust="spacingAndGlyphs">29 Aug 12:00</text>
<rect x="1029" y="825" width="1" height="3" fill="#000"/>
<text x="1028.1" y="837" font-size="9.8" fill="#000" stroke="#000" stroke-width="0.2" textLength="55.6" lengthAdjust="spacingAndGlyphs">30 Aug 04:00</text>
<rect x="1093" y="825" width="1" height="3" fill="#000"/>
<text x="1092.1" y="837" font-size="9.8" fill="#000" stroke="#000" stroke-width="0.2" textLength="55.6" lengthAdjust="spacingAndGlyphs">30 Aug 20:00</text>
<rect x="1157" y="825" width="1" height="3" fill="#000"/>
<text x="1156.1" y="837" font-size="9.8" fill="#000" stroke="#000" stroke-width="0.2" textLength="55.6" lengthAdjust="spacingAndGlyphs">31 Aug 12:00</text>
<rect x="1221" y="825" width="1" height="3" fill="#000"/>
<text x="1220.1" y="837" font-size="9.8" fill="#000" stroke="#000" stroke-width="0.2" textLength="50.4" lengthAdjust="spacingAndGlyphs">1 Sep 04:00</text>
<rect x="1285" y="825" width="1" height="3" fill="#000"/>
<text x="1284.1" y="837" font-size="9.8" fill="#000" stroke="#000" stroke-width="0.2" textLength="50.4" lengthAdjust="spacingAndGlyphs">1 Sep 20:00</text>
<defs><pattern id="chk" width="2" height="2" patternUnits="userSpaceOnUse"><rect width="2" height="2" fill="#f7f7f7"/><rect width="1" height="1" fill="#ffffff"/><rect x="1" y="1" width="1" height="1" fill="#ffffff"/></pattern><linearGradient id="gplus" x1="0" y1="0" x2="0" y2="1"><stop offset="0" stop-color="#5fe85f"/><stop offset="1" stop-color="#10a010"/></linearGradient><linearGradient id="gold" x1="0" y1="0" x2="1" y2="1"><stop offset="0" stop-color="#f8e27a"/><stop offset="1" stop-color="#c8901a"/></linearGradient><linearGradient id="cloud" x1="0" y1="0" x2="0" y2="1"><stop offset="0" stop-color="#ffffff"/><stop offset="1" stop-color="#b8c2d8"/></linearGradient><radialGradient id="redc" cx="0.5" cy="0.3" r="0.7"><stop offset="0" stop-color="#f06040"/><stop offset="1" stop-color="#d02a10"/></radialGradient></defs>
<rect x="5" y="0" width="1" height="21" fill="#a0a0a0"/>
<rect x="6" y="0" width="1" height="21" fill="#ffffff"/>
<g shape-rendering="geometricPrecision">
<path d="M15.5,3.5 h8 l3,3 v10 h-11 z" fill="#fafafa" stroke="#777" stroke-width="1"/>
<path d="M17,6.5 h3.5 M17,9.5 h6 M17,11.5 h5" stroke="#a8a8a8" stroke-width="1" fill="none"/>
<path d="M23.4,9.3 h3.6 v3.8 h3.8 v3.6 h-3.8 v3.8 h-3.6 v-3.8 h-3.8 v-3.6 h3.8 z" fill="url(#gplus)" stroke="#0a8a0a" stroke-width="0.8"/>
</g>
<g transform="translate(34,4) scale(1.0)" fill="none" stroke="#1a1a1a" stroke-width="1.0" stroke-linecap="square" shape-rendering="geometricPrecision">
<path d="M3.4,0 v1.2"/>
<path d="M1,1.4 h4.8"/>
<path d="M2,2.2 l0.4,1.2"/>
<path d="M5,2.2 l-0.4,1.2"/>
<path d="M0,4.4 h6.5"/>
<path d="M1,6.4 h4.8"/>
<path d="M3.4,4.4 v6.4"/>
<path d="M3.2,7.4 l-2.8,2.2"/>
<path d="M3.8,7.4 l2.4,1.8"/>
<path d="M11.5,0.3 l-3.6,1.4 v5.6 q0,2.6 -1.2,3.8"/>
<path d="M7.9,4.4 h4.4"/>
<path d="M10.4,4.4 v6.6"/>
</g>
<g transform="translate(46,4) scale(1.0)" fill="none" stroke="#1a1a1a" stroke-width="1.0" stroke-linecap="square" shape-rendering="geometricPrecision">
<path d="M1.6,0.3 l1,1.6"/>
<path d="M0.4,5.5 h2 v4.6 l1.6,-1.6"/>
<path d="M4.2,1.4 h7.8"/>
<path d="M8.5,1.4 v9.1 h-3"/>
</g>
<g transform="translate(58.2,4.0) scale(1.0)" fill="none" stroke="#1a1a1a" stroke-width="1.0" stroke-linecap="square" shape-rendering="geometricPrecision">
<path d="M3.3,0 l0.9,1.4"/>
<path d="M8.4,0 l-0.9,1.4"/>
<path d="M2,2.4 h8 v5.2 h-8 z"/>
<path d="M2,5 h8"/>
<path d="M6,2.4 v9.3"/>
<path d="M0.2,9.3 h11.6"/>
</g>
<g shape-rendering="geometricPrecision">
<path d="M87.6,4.4 L96.6,10.6 L98,13 L90,18.6 L82.3,12.8 L85.6,8.8 Z" fill="url(#gold)" stroke="#9a6010" stroke-width="0.9" stroke-linejoin="round"/>
<path d="M83.6,12.6 L90,17.2 L96.8,12.4" fill="none" stroke="#fff0a0" stroke-width="0.9"/>
<path d="M90.5,17.8 L97.2,13.2" fill="none" stroke="#d8c890" stroke-width="1.2"/>
</g>
<g shape-rendering="geometricPrecision">
<rect x="112" y="3.3" width="11" height="9.5" fill="#1a90f0" stroke="#1070d0" stroke-width="0.6"/>
<path d="M112.6,3.8 L115.3,6.4 V12 M115.3,6.4 H122.6" fill="none" stroke="#d8f0ff" stroke-width="0.8"/>
<path d="M117.4,8.4 h4" stroke="#e0f4ff" stroke-width="0.9"/>
<path d="M111.2,18.4 Q109.4,14.8 113,14.4 Q113.6,11.4 117.2,12.4 Q119.6,10.6 122.2,13.2 Q126.6,13.2 125.6,18.4 Z" fill="url(#cloud)" stroke="#4a5a8a" stroke-width="0.9" stroke-linejoin="round"/>
</g>
<g shape-rendering="geometricPrecision" fill="none">
<path d="M145.9,10.8 L145.9,18.6 A7.8,7.8 0 0 0 151.4,5.3 Z" fill="#8fd08f" opacity="0.55"/>
<circle cx="145.9" cy="10.8" r="7.4" stroke="#5a80d0" stroke-width="1" opacity="0.75"/>
<circle cx="145.9" cy="10.8" r="4.6" stroke="#4a78d0" stroke-width="1" opacity="0.8"/>
<circle cx="145.9" cy="10.8" r="1.8" fill="#2050c0"/>
<path d="M146.3,11 v7.6" stroke="#20a020" stroke-width="1.3"/>
</g>
<g shape-rendering="geometricPrecision">
<path d="M166,11 l6,7 l7,-2 l2,-6 z" fill="#f2d85a" stroke="#c9a020" stroke-width="0.8"/>
<ellipse cx="173" cy="7.5" rx="7.5" ry="3" fill="#4aa6da" stroke="#2a7ab0" stroke-width="0.8"/>
<ellipse cx="173" cy="5.5" rx="4" ry="3" fill="#7cc4ec" stroke="#2a7ab0" stroke-width="0.8"/>
<circle cx="177.3" cy="14.6" r="4" fill="#d82a18"/>
<rect x="175.6" y="12.9" width="3.4" height="3.4" fill="#fff"/>
</g>
<g transform="translate(186.2,3.8) scale(1.0)" fill="none" stroke="#1a1a1a" stroke-width="1.0" stroke-linecap="square" shape-rendering="geometricPrecision">
<path d="M5.8,0 l-1,1.6"/>
<path d="M2.2,1.8 h7.8 v9.8 h-7.8 z"/>
<path d="M2.2,5 h7.8"/>
<path d="M2.2,8.2 h7.8"/>
</g>
<g transform="translate(197.8,3.8) scale(1.0)" fill="none" stroke="#1a1a1a" stroke-width="1.0" stroke-linecap="square" shape-rendering="geometricPrecision">
<path d="M0.8,1.5 h4.4"/>
<path d="M0.2,4.2 h5.6"/>
<path d="M2.6,4.2 l-2,5 l4.8,-0.6"/>
<path d="M4.2,7.3 l1.4,2.4"/>
<path d="M6.6,3.6 h4.8 v7 l-1.4,0.9"/>
<path d="M9,0.2 v4 q-0.5,4.5 -2.8,7.3"/>
</g>
<g transform="translate(209.4,3.6) scale(1.0)" fill="none" stroke="#1a1a1a" stroke-width="1.0" stroke-linecap="square" shape-rendering="geometricPrecision">
<path d="M6,0 v1.6"/>
<path d="M0.4,2.6 h11.2"/>
<path d="M3.6,3.6 l-2,2.4"/>
<path d="M8.4,3.6 l2,2.4"/>
<path d="M3,6.3 q3,4 8.6,5.3"/>
<path d="M9,6.3 q-3,4.3 -8.6,5.3"/>
</g>
<g transform="translate(221,3.6) scale(1.0)" fill="none" stroke="#1a1a1a" stroke-width="1.0" stroke-linecap="square" shape-rendering="geometricPrecision">
<path d="M3,0.5 h6 v5 h-6 z"/>
<path d="M3,3 h6"/>
<path d="M3.2,5.8 l-2.2,2.4"/>
<path d="M2.6,7.2 h8.5 l-0.5,3.6 l-1.3,0.8"/>
<path d="M5.4,7.6 l-2.6,3.8"/>
<path d="M8,7.6 l-2.6,4"/>
</g>
<rect x="241" y="0" width="1" height="21" fill="#a0a0a0"/>
<rect x="242" y="0" width="1" height="21" fill="#ffffff"/>
<rect x="245" y="1" width="3" height="1" fill="#9a9a9a"/>
<rect x="245" y="3" width="3" height="1" fill="#9a9a9a"/>
<rect x="245" y="5" width="3" height="1" fill="#9a9a9a"/>
<rect x="245" y="7" width="3" height="1" fill="#9a9a9a"/>
<rect x="245" y="9" width="3" height="1" fill="#9a9a9a"/>
<rect x="245" y="11" width="3" height="1" fill="#9a9a9a"/>
<rect x="245" y="13" width="3" height="1" fill="#9a9a9a"/>
<rect x="245" y="15" width="3" height="1" fill="#9a9a9a"/>
<rect x="245" y="17" width="3" height="1" fill="#9a9a9a"/>
<rect x="245" y="19" width="3" height="1" fill="#9a9a9a"/>
<g shape-rendering="geometricPrecision">
<path d="M259.5,6.5 v12.5 M256.5,16.5 h12.5" stroke="#555" stroke-width="1.2" fill="none"/>
<path d="M259.5,5 l-2,2.6 h4 z M270.8,16.5 l-2.6,-2 v4 z" fill="#555"/>
<path d="M265.5,6.5 v8 M265.5,7.3 h2.5 M263,13.5 h2.5" stroke="#1a9a2a" stroke-width="1.3" fill="none"/>
</g>
<rect x="279" y="0" width="25" height="21" fill="url(#chk)"/>
<rect x="279" y="0" width="1" height="21" fill="#a0a0a0"/>
<rect x="279" y="21" width="25" height="1" fill="#ffffff"/>
<g shape-rendering="geometricPrecision">
<path d="M287.5,6.5 v12.5 M284.5,16.5 h12.5" stroke="#555" stroke-width="1.2" fill="none"/>
<path d="M287.5,5 l-2,2.6 h4 z M298.8,16.5 l-2.6,-2 v4 z" fill="#555"/>
<path d="M293.6,3.2 v11.8" stroke="#0a8a1a" stroke-width="1.2"/>
<rect x="291.5" y="4.8" width="4.3" height="8.2" fill="#3ee04a" stroke="#0a8a1a" stroke-width="0.9"/>
</g>
<g shape-rendering="geometricPrecision">
<path d="M315.5,6.5 v12.5 M312.5,16.5 h12.5" stroke="#555" stroke-width="1.2" fill="none"/>
<path d="M315.5,5 l-2,2.6 h4 z M326.8,16.5 l-2.6,-2 v4 z" fill="#555"/>
<path d="M314,13.5 q6,-8 8,-5.5 q2,2.5 4,4" stroke="#2a9a3a" stroke-width="1.1" fill="none"/>
</g>
<rect x="336" y="0" width="1" height="21" fill="#a0a0a0"/>
<rect x="337" y="0" width="1" height="21" fill="#ffffff"/>
<g shape-rendering="geometricPrecision">
<path d="M354.4,12.5 l5.5,5.5" stroke="#b08a10" stroke-width="3.2" stroke-linecap="round"/>
<path d="M354.4,12.5 l5.5,5.5" stroke="#f0d860" stroke-width="1.6" stroke-linecap="round"/>
<circle cx="350.9" cy="8.9" r="5.5" fill="#dff2ff" stroke="#3c7cc8" stroke-width="1.1"/>
<path d="M347.9,8.9 h6" stroke="#4a86b8" stroke-width="1.8"/>
<path d="M350.9,5.9 v6" stroke="#4a86b8" stroke-width="1.8"/>
</g>
<g shape-rendering="geometricPrecision">
<path d="M382.4,12.5 l5.5,5.5" stroke="#b08a10" stroke-width="3.2" stroke-linecap="round"/>
<path d="M382.4,12.5 l5.5,5.5" stroke="#f0d860" stroke-width="1.6" stroke-linecap="round"/>
<circle cx="378.9" cy="8.9" r="5.5" fill="#dff2ff" stroke="#3c7cc8" stroke-width="1.1"/>
<path d="M375.9,8.9 h6" stroke="#4a86b8" stroke-width="1.8"/>
</g>
<g shape-rendering="geometricPrecision">
<rect x="401" y="3.2" width="7.8" height="7.6" fill="#2a9a2a"/>
<rect x="402.2" y="5.6" width="5.4" height="3.8" fill="#ffffff"/>
<path d="M403,7.4 h3.8" stroke="#2a9a2a" stroke-width="0.8" opacity="0.6"/>
<rect x="409.2" y="3.2" width="7.8" height="7.6" fill="#2050c8"/>
<rect x="410.4" y="5.6" width="5.4" height="3.8" fill="#ffffff"/>
<path d="M411.2,7.4 h3.8" stroke="#2050c8" stroke-width="0.8" opacity="0.6"/>
<rect x="401" y="11.2" width="7.8" height="7.6" fill="#2050c8"/>
<rect x="402.2" y="13.6" width="5.4" height="3.8" fill="#ffffff"/>
<path d="M403,15.399999999999999 h3.8" stroke="#2050c8" stroke-width="0.8" opacity="0.6"/>
<rect x="409.2" y="11.2" width="7.8" height="7.6" fill="#2a9a2a"/>
<rect x="410.4" y="13.6" width="5.4" height="3.8" fill="#ffffff"/>
<path d="M411.2,15.399999999999999 h3.8" stroke="#2a9a2a" stroke-width="0.8" opacity="0.6"/>
</g>
<rect x="426" y="0" width="1" height="21" fill="#a0a0a0"/>
<rect x="427" y="0" width="1" height="21" fill="#ffffff"/>
<rect x="431" y="0" width="25" height="21" fill="url(#chk)"/>
<rect x="431" y="0" width="1" height="21" fill="#a0a0a0"/>
<rect x="431" y="21" width="25" height="1" fill="#ffffff"/>
<g shape-rendering="geometricPrecision">
<path d="M439.5,6.5 v12.5 M436.5,16.5 h12.5" stroke="#555" stroke-width="1.2" fill="none"/>
<path d="M439.5,5 l-2,2.6 h4 z M450.8,16.5 l-2.6,-2 v4 z" fill="#555"/>
<path d="M444.2,7 l4,3.4 l-4,3.4 z" fill="#30c040" stroke="#0a8a1a" stroke-width="0.8"/>
</g>
<rect x="459" y="0" width="25" height="21" fill="url(#chk)"/>
<rect x="459" y="0" width="1" height="21" fill="#a0a0a0"/>
<rect x="459" y="21" width="25" height="1" fill="#ffffff"/>
<g shape-rendering="geometricPrecision">
<path d="M467.5,6.5 v12.5 M464.5,16.5 h12.5" stroke="#555" stroke-width="1.2" fill="none"/>
<path d="M467.5,5 l-2,2.6 h4 z M478.8,16.5 l-2.6,-2 v4 z" fill="#555"/>
<path d="M473.5,5 v10" stroke="#1a60b0" stroke-width="1.3"/>
<path d="M474.5,10.5 l3,-2.3 v1.6 h2 v1.4 h-2 v1.6 z" fill="#e05010"/>
</g>
<rect x="488" y="0" width="1" height="21" fill="#a0a0a0"/>
<rect x="489" y="0" width="1" height="21" fill="#ffffff"/>
<g shape-rendering="geometricPrecision">
<path d="M498.5,3.5 h8 l3,3 v10 h-11 z" fill="#fafafa" stroke="#777" stroke-width="1"/>
<path d="M503,5.5 q-1.5,0 -1.5,2 v6" stroke="#555" stroke-width="0.9" fill="none"/>
<path d="M506.2,9.3 h3.6 v3.8 h3.8 v3.6 h-3.8 v3.8 h-3.6 v-3.8 h-3.8 v-3.6 h3.8 z" fill="url(#gplus)" stroke="#0a8a0a" stroke-width="0.8"/>
</g>
<path d="M520,10 h5.5 l-2.75,3 z" fill="#000"/>
<g shape-rendering="geometricPrecision">
<circle cx="544" cy="11" r="7.8" fill="#1a62c8"/>
<circle cx="544" cy="11" r="5.4" fill="#f4f8ff" stroke="#7ab8f0" stroke-width="0.8"/>
<path d="M543.5,7.5 v3.5 h3" stroke="#222" stroke-width="1.1" fill="none"/>
</g>
<path d="M559,10 h5.5 l-2.75,3 z" fill="#000"/>
<g shape-rendering="geometricPrecision">
<rect x="575.5" y="4.5" width="15" height="13" fill="#ffffff" stroke="#2a66b8" stroke-width="1"/>
<rect x="576" y="5" width="14" height="1.6" fill="#7ab0e8"/>
<path d="M576,12.3 h14" stroke="#2a66b8" stroke-width="0.8"/>
<path d="M577,10.8 l2,-0.4 l2,-1.2 l1.5,0.8 l2,-0.8 l1.5,0.6 l2,-0.9" stroke="#a82810" stroke-width="1.2" fill="none"/>
<path d="M577,15.6 l2,-0.6 l2,0.6 l2,-1.6 l1.5,-0.6 l2,1.6 l1.5,0.8" stroke="#18a828" stroke-width="1.2" fill="none"/>
</g>
<path d="M598,10 h5.5 l-2.75,3 z" fill="#000"/>
<rect x="609" y="0" width="1" height="21" fill="#a0a0a0"/>
<rect x="610" y="0" width="1" height="21" fill="#ffffff"/>
<rect x="613" y="1" width="3" height="1" fill="#9a9a9a"/>
<rect x="613" y="3" width="3" height="1" fill="#9a9a9a"/>
<rect x="613" y="5" width="3" height="1" fill="#9a9a9a"/>
<rect x="613" y="7" width="3" height="1" fill="#9a9a9a"/>
<rect x="613" y="9" width="3" height="1" fill="#9a9a9a"/>
<rect x="613" y="11" width="3" height="1" fill="#9a9a9a"/>
<rect x="613" y="13" width="3" height="1" fill="#9a9a9a"/>
<rect x="613" y="15" width="3" height="1" fill="#9a9a9a"/>
<rect x="613" y="17" width="3" height="1" fill="#9a9a9a"/>
<rect x="613" y="19" width="3" height="1" fill="#9a9a9a"/>
<rect x="619" y="0" width="25" height="21" fill="url(#chk)"/>
<rect x="619" y="0" width="1" height="21" fill="#a0a0a0"/>
<rect x="619" y="21" width="25" height="1" fill="#ffffff"/>
<path d="M627.3,3.8 v11.5 l2.6,-2.4 l2.2,5.1 l1.7,-0.8 l-2.2,-4.9 h3.5 z" fill="#505050" shape-rendering="geometricPrecision"/>
<rect x="652" y="11" width="6" height="1" fill="#505050"/>
<rect x="661" y="11" width="6" height="1" fill="#505050"/>
<rect x="659" y="4" width="1" height="6" fill="#505050"/>
<rect x="659" y="13" width="1" height="6" fill="#505050"/>
<rect x="659" y="11" width="1" height="1" fill="#909090"/>
<rect x="676" y="0" width="1" height="21" fill="#a0a0a0"/>
<rect x="677" y="0" width="1" height="21" fill="#ffffff"/>
<rect x="693" y="5" width="1" height="13" fill="#404040"/>
<rect x="716" y="11" width="12" height="1" fill="#404040"/>
<path d="M744,17.7 L755.8,6" stroke="#404040" stroke-width="1.1" shape-rendering="geometricPrecision"/>
<g shape-rendering="geometricPrecision" stroke="#404040" stroke-width="1" fill="none">
<path d="M770.5,12.5 l7,-7.5 M772.5,17 l8.5,-9 M776,18 l8,-8.5 M781.5,3.5 v7 M776.5,7 v8 M773,9 v6"/>
</g>
<text x="780.5" y="19.6" font-size="6.8" font-weight="bold" fill="#404040" style="font-family:'Liberation Sans',sans-serif">E</text>
<g shape-rendering="crispEdges">
<rect x="799" y="4" width="1" height="1" fill="#505050"/>
<rect x="801" y="4" width="1" height="1" fill="#505050"/>
<rect x="803" y="4" width="1" height="1" fill="#505050"/>
<rect x="805" y="4" width="1" height="1" fill="#505050"/>
<rect x="807" y="4" width="1" height="1" fill="#505050"/>
<rect x="809" y="4" width="1" height="1" fill="#505050"/>
<rect x="811" y="4" width="1" height="1" fill="#505050"/>
<rect x="799" y="7" width="1" height="1" fill="#505050"/>
<rect x="801" y="7" width="1" height="1" fill="#505050"/>
<rect x="803" y="7" width="1" height="1" fill="#505050"/>
<rect x="805" y="7" width="1" height="1" fill="#505050"/>
<rect x="807" y="7" width="1" height="1" fill="#505050"/>
<rect x="809" y="7" width="1" height="1" fill="#505050"/>
<rect x="811" y="7" width="1" height="1" fill="#505050"/>
<rect x="799" y="11" width="1" height="1" fill="#505050"/>
<rect x="801" y="11" width="1" height="1" fill="#505050"/>
<rect x="803" y="11" width="1" height="1" fill="#505050"/>
<rect x="805" y="11" width="1" height="1" fill="#505050"/>
<rect x="807" y="11" width="1" height="1" fill="#505050"/>
<rect x="809" y="11" width="1" height="1" fill="#505050"/>
<rect x="811" y="11" width="1" height="1" fill="#505050"/>
<rect x="799" y="15" width="1" height="1" fill="#505050"/>
<rect x="801" y="15" width="1" height="1" fill="#505050"/>
<rect x="803" y="15" width="1" height="1" fill="#505050"/>
<rect x="805" y="15" width="1" height="1" fill="#505050"/>
</g>
<text x="808.6" y="19.8" font-size="6.8" font-weight="bold" fill="#404040" style="font-family:'Liberation Sans',sans-serif">F</text>
<text x="829.6" y="15.7" font-size="12" font-weight="bold" fill="#505050" style="font-family:'Liberation Sans',sans-serif">A</text>
<g shape-rendering="crispEdges">
<rect x="856" y="5" width="1" height="1" fill="#505050"/>
<rect x="856" y="17" width="1" height="1" fill="#505050"/>
<rect x="858" y="5" width="1" height="1" fill="#505050"/>
<rect x="858" y="17" width="1" height="1" fill="#505050"/>
<rect x="860" y="5" width="1" height="1" fill="#505050"/>
<rect x="860" y="17" width="1" height="1" fill="#505050"/>
<rect x="862" y="5" width="1" height="1" fill="#505050"/>
<rect x="862" y="17" width="1" height="1" fill="#505050"/>
<rect x="864" y="5" width="1" height="1" fill="#505050"/>
<rect x="864" y="17" width="1" height="1" fill="#505050"/>
<rect x="866" y="5" width="1" height="1" fill="#505050"/>
<rect x="866" y="17" width="1" height="1" fill="#505050"/>
<rect x="856" y="5" width="1" height="1" fill="#505050"/>
<rect x="867" y="5" width="1" height="1" fill="#505050"/>
<rect x="856" y="7" width="1" height="1" fill="#505050"/>
<rect x="867" y="7" width="1" height="1" fill="#505050"/>
<rect x="856" y="9" width="1" height="1" fill="#505050"/>
<rect x="867" y="9" width="1" height="1" fill="#505050"/>
<rect x="856" y="11" width="1" height="1" fill="#505050"/>
<rect x="867" y="11" width="1" height="1" fill="#505050"/>
<rect x="856" y="13" width="1" height="1" fill="#505050"/>
<rect x="867" y="13" width="1" height="1" fill="#505050"/>
<rect x="856" y="15" width="1" height="1" fill="#505050"/>
<rect x="867" y="15" width="1" height="1" fill="#505050"/>
<rect x="856" y="17" width="1" height="1" fill="#505050"/>
<rect x="867" y="17" width="1" height="1" fill="#505050"/>
<rect x="855" y="4" width="2" height="1" fill="#505050"/>
</g>
<text x="858" y="15.2" font-size="10.5" font-weight="bold" fill="#505050" style="font-family:'Liberation Sans',sans-serif">T</text>
<g shape-rendering="geometricPrecision" fill="#404040">
<path d="M886.5,4.8 l3,2.4 l-3,2.4 l-3,-2.4 z"/>
<path d="M893.5,13.6 l3.2,2.2 l-3.2,2.4 l-3.2,-2.4 z"/>
<path d="M885.5,11.5 l2.2,2 l4.5,-5" stroke="#404040" stroke-width="1.2" fill="none"/>
</g>
<path d="M903.8,10 h5.2 l-2.6,3 z" fill="#000"/>
<rect x="915" y="0" width="1" height="21" fill="#a0a0a0"/>
<rect x="916" y="0" width="1" height="21" fill="#ffffff"/>
<rect x="919" y="1" width="3" height="1" fill="#9a9a9a"/>
<rect x="919" y="3" width="3" height="1" fill="#9a9a9a"/>
<rect x="919" y="5" width="3" height="1" fill="#9a9a9a"/>
<rect x="919" y="7" width="3" height="1" fill="#9a9a9a"/>
<rect x="919" y="9" width="3" height="1" fill="#9a9a9a"/>
<rect x="919" y="11" width="3" height="1" fill="#9a9a9a"/>
<rect x="919" y="13" width="3" height="1" fill="#9a9a9a"/>
<rect x="919" y="15" width="3" height="1" fill="#9a9a9a"/>
<rect x="919" y="17" width="3" height="1" fill="#9a9a9a"/>
<rect x="919" y="19" width="3" height="1" fill="#9a9a9a"/>
<rect x="1065" y="0" width="25" height="21" fill="url(#chk)"/>
<rect x="1065" y="0" width="1" height="21" fill="#a0a0a0"/>
<rect x="1065" y="21" width="25" height="1" fill="#ffffff"/>
<text x="930.7" y="15.1" font-size="10" fill="#2a2a2a" textLength="12.4" lengthAdjust="spacingAndGlyphs" style="font-family:'Liberation Sans',sans-serif">M1</text>
<text x="958.8" y="15.1" font-size="10" fill="#2a2a2a" textLength="12.4" lengthAdjust="spacingAndGlyphs" style="font-family:'Liberation Sans',sans-serif">M5</text>
<text x="984.9" y="15.1" font-size="10" fill="#2a2a2a" textLength="16.9" lengthAdjust="spacingAndGlyphs" style="font-family:'Liberation Sans',sans-serif">M15</text>
<text x="1013" y="15.1" font-size="10" fill="#2a2a2a" textLength="17" lengthAdjust="spacingAndGlyphs" style="font-family:'Liberation Sans',sans-serif">M30</text>
<text x="1043.7" y="15.1" font-size="10" fill="#2a2a2a" textLength="11.6" lengthAdjust="spacingAndGlyphs" style="font-family:'Liberation Sans',sans-serif">H1</text>
<text x="1070.6" y="15.1" font-size="10" fill="#2a2a2a" textLength="12.4" lengthAdjust="spacingAndGlyphs" style="font-family:'Liberation Sans',sans-serif">H4</text>
<text x="1099.6" y="15.1" font-size="10" fill="#2a2a2a" textLength="11.6" lengthAdjust="spacingAndGlyphs" style="font-family:'Liberation Sans',sans-serif">D1</text>
<text x="1126.9" y="15.1" font-size="10" fill="#2a2a2a" textLength="14.1" lengthAdjust="spacingAndGlyphs" style="font-family:'Liberation Sans',sans-serif">W1</text>
<text x="1153.8" y="15.1" font-size="10" fill="#2a2a2a" textLength="14.4" lengthAdjust="spacingAndGlyphs" style="font-family:'Liberation Sans',sans-serif">MN</text>
<rect x="1175" y="0" width="1" height="23" fill="#f6f6f6"/>
<rect x="1176" y="0" width="1" height="23" fill="#a0a0a0"/>
<rect x="1177" y="0" width="1" height="23" fill="#ffffff"/>
<g shape-rendering="geometricPrecision">
<circle cx="1646.6" cy="8.4" r="3.6" fill="#f4f8ff" stroke="#2a5fd0" stroke-width="1.3"/>
<path d="M1643.8,11.4 l-4.3,4.4" stroke="#2a5fd0" stroke-width="2.4" stroke-linecap="round"/>
<ellipse cx="1668.5" cy="13.2" rx="5.6" ry="4.6" fill="#e4e6ee" stroke="#9a9a9a" stroke-width="0.8"/>
<path d="M1666,17 l0.6,2.6 l2.4,-2.4 z" fill="#9a9a9a"/>
<circle cx="1677.6" cy="8.4" r="8" fill="url(#redc)"/>
<text x="1677.8" y="12.8" font-size="11.5" font-weight="bold" fill="#ffffff" text-anchor="middle" style="font-family:'Liberation Serif',serif">1</text>
</g>
</svg>
</body></html>
